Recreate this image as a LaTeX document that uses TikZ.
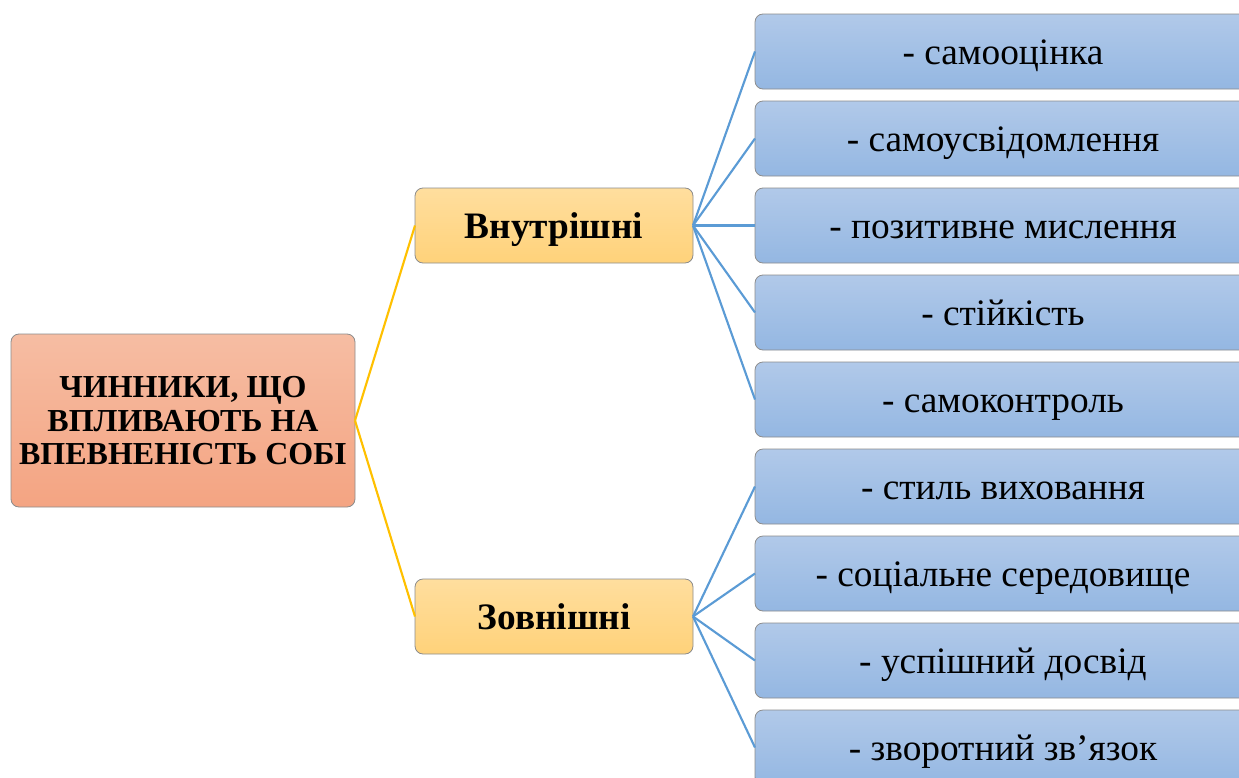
\documentclass[tikz,border=0pt]{standalone}
\usepackage{fontspec}
\setmainfont{Liberation Serif}
\begin{document}
\begin{tikzpicture}[x=0.75pt,y=-0.75pt,
  box/.style={draw=black!45,line width=0.6pt,rounded corners=6pt,inner sep=0pt,outer sep=0pt,align=center,text=black},
  rootbox/.style={box,minimum width=258pt,minimum height=129.75pt,top color=rootTop,bottom color=rootBot,
    font=\fontsize{24}{25}\selectfont\bfseries},
  midbox/.style={box,minimum width=208.5pt,minimum height=56.25pt,top color=midTop,bottom color=midBot,
    font=\fontsize{28}{30}\selectfont\bfseries,text height=22pt,text depth=3pt},
  leafbox/.style={box,minimum width=372pt,minimum height=56.25pt,top color=leafTop,bottom color=leafBot,
    font=\fontsize{28}{30}\selectfont,text height=22pt,text depth=3pt},
  yl/.style={draw=linkY,line width=1.6pt},
  bl/.style={draw=linkB,line width=1.6pt}]
\definecolor{rootTop}{HTML}{F6BDA3}
\definecolor{rootBot}{HTML}{F4A482}
\definecolor{midTop}{HTML}{FFDE9E}
\definecolor{midBot}{HTML}{FFD27A}
\definecolor{leafTop}{HTML}{B1C9E9}
\definecolor{leafBot}{HTML}{94B7E2}
\definecolor{linkY}{HTML}{FFC000}
\definecolor{linkB}{HTML}{5B9BD5}
\useasboundingbox (0,0) rectangle (1239,778);
\begin{scope}
\clip (0,0) rectangle (1239,778);
\node[rootbox] (root) at (183,420.5) {\raisebox{-3pt}[\height][\depth]{\begin{tabular}{@{}c@{}}ЧИННИКИ, ЩО\\ВПЛИВАЮТЬ НА\\ВПЕВНЕНІСТЬ СОБІ\end{tabular}}};
\node[midbox] (in) at (554,225.5) {Внутрішні};
\node[midbox] (out) at (554,616.5) {Зовнішні};
\node[leafbox] (a1) at (1003,51.5) {- самооцінка};
\node[leafbox] (a2) at (1003,138.5) {- самоусвідомлення};
\node[leafbox] (a3) at (1003,225.5) {- позитивне мислення};
\node[leafbox] (a4) at (1003,312.5) {- стійкість};
\node[leafbox] (a5) at (1003,399.5) {- самоконтроль};
\node[leafbox] (b1) at (1003,486.5) {- стиль виховання};
\node[leafbox] (b2) at (1003,573.5) {- соціальне середовище};
\node[leafbox] (b3) at (1003,660.5) {- успішний досвід};
\node[leafbox] (b4) at (1003,747.5) {- зворотний зв’язок};
\draw[yl] (root.east) -- (in.west);
\draw[yl] (root.east) -- (out.west);
\foreach \n in {a1,a2,a3,a4,a5} \draw[bl] (in.east) -- (\n.west);
\foreach \n in {b1,b2,b3,b4} \draw[bl] (out.east) -- (\n.west);
\end{scope}
\end{tikzpicture}
\end{document}
